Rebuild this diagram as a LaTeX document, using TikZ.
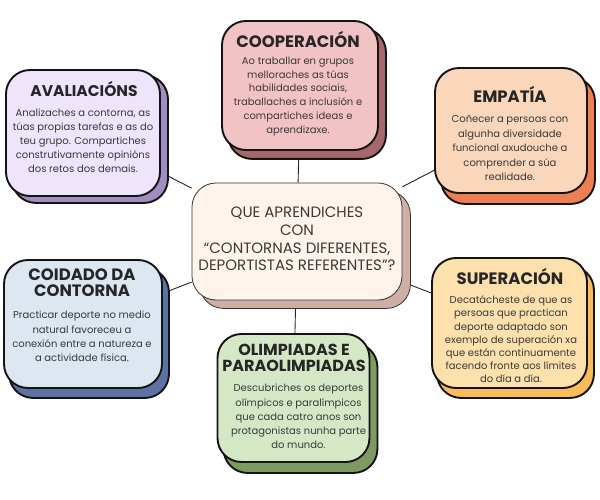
\documentclass[tikz,border=0pt]{standalone}
\usepackage{fontspec}
\setmainfont{Poppins}
\usetikzlibrary{backgrounds}
\definecolor{coopF}{HTML}{F2C3C5}
\definecolor{coopS}{HTML}{A7686B}
\definecolor{avalF}{HTML}{EEE4FB}
\definecolor{avalS}{HTML}{A28DC1}
\definecolor{empF}{HTML}{FAD7BA}
\definecolor{empS}{HTML}{EE7F52}
\definecolor{coidF}{HTML}{DDE7F1}
\definecolor{coidS}{HTML}{5B72A2}
\definecolor{supF}{HTML}{FCE1AC}
\definecolor{supS}{HTML}{F8BC5A}
\definecolor{olimF}{HTML}{D5E8C6}
\definecolor{olimS}{HTML}{7D9A63}
\definecolor{centF}{HTML}{FEF4EC}
\definecolor{centS}{HTML}{CFAFA5}
\definecolor{titleC}{HTML}{262626}
\definecolor{bodyC}{HTML}{3A3A3A}
\begin{document}
\begin{tikzpicture}[x=1pt,y=-1pt,
  box/.style={draw=black!92, line width=1.9pt, rounded corners=24pt, inner sep=0pt},
  shadowbox/.style={draw=black!92, line width=1.9pt, rounded corners=24pt},
  centbox/.style={draw=black!80, line width=0.8pt, rounded corners=24pt, inner sep=0pt},
  centshadow/.style={draw=black!80, line width=0.8pt, rounded corners=24pt},
  ttl/.style={align=center, text=titleC, font={\fontsize{#1}{16}\selectfont\bfseries}, inner sep=0pt},
  ttl/.default=16.5,
  bdy/.style={align=center, text=bodyC, font={\fontsize{10}{#1}\selectfont}, inner sep=0pt},
  bdy/.default=14,
  ctxt/.style={align=center, text=bodyC, font=\fontsize{15}{17.7}\selectfont, inner sep=0pt},
  link/.style={draw=black!85, line width=0.9pt}]
\useasboundingbox (0,0) rectangle (600,500);

% boxes
\node[centbox, fill=centF, minimum width=210pt, minimum height=117pt] (cent) at (297,241.5) {};
\node[box, fill=coopF, minimum width=156pt, minimum height=129pt] (coop) at (300,85.5) {};
\node[box, fill=avalF, minimum width=154pt, minimum height=126pt] (aval) at (83,133) {};
\node[box, fill=empF, minimum width=152pt, minimum height=125pt] (emp) at (511,130.5) {};
\node[box, fill=coidF, minimum width=158pt, minimum height=128pt] (coid) at (83,324) {};
\node[box, fill=supF, minimum width=155pt, minimum height=130pt] (sup) at (509.5,323) {};
\node[box, fill=olimF, minimum width=152pt, minimum height=128pt] (olim) at (293.5,398) {};

\begin{scope}[on background layer]
  \foreach \n in {coop,aval,emp,coid,sup,olim}
    \draw[link] (cent) -- (\n);
  \draw[centshadow, fill=centS] ([shift={(8,8)}]cent.north west) rectangle ([shift={(8,8)}]cent.south east);
  \draw[shadowbox, fill=coopS] ([shift={(7,8)}]coop.north west) rectangle ([shift={(7,8)}]coop.south east);
  \draw[shadowbox, fill=avalS] ([shift={(7,6)}]aval.north west) rectangle ([shift={(7,6)}]aval.south east);
  \draw[shadowbox, fill=empS] ([shift={(7,10)}]emp.north west) rectangle ([shift={(7,10)}]emp.south east);
  \draw[shadowbox, fill=coidS] ([shift={(6,9)}]coid.north west) rectangle ([shift={(6,9)}]coid.south east);
  \draw[shadowbox, fill=supS] ([shift={(6,9)}]sup.north west) rectangle ([shift={(6,9)}]sup.south east);
  \draw[shadowbox, fill=olimS] ([shift={(7,10)}]olim.north west) rectangle ([shift={(7,10)}]olim.south east);
\end{scope}

% texts
\node[ctxt] (centT) at (297,239) {QUE APRENDICHES\\CON\\“CONTORNAS DIFERENTES,\\DEPORTISTAS REFERENTES”?};

\node[ttl=16.5] (coopT) at (298,40) {COOPERACIÓN};
\node[bdy=13.8] (coopB) at (298,96.5) {Ao traballar en grupos\\melloraches as túas\\habilidades sociais,\\traballaches a inclusión e\\compartiches ideas e\\aprendizaxe.};

\node[ttl=15.5] (avalT) at (84,89) {AVALIACIÓNS};
\node[bdy] (avalB) at (83,141) {Analizaches a contorna, as\\túas propias tarefas e as do\\teu grupo. Compartiches\\construtivamente opinións\\dos retos dos demais.};

\node[ttl=16.5] (empT) at (510,94) {EMPATÍA};
\node[bdy=14.5] (empB) at (510,148) {Coñecer a persoas con\\algunha diversidade\\funcional axudouche a\\comprender a súa\\realidade.};

\node[ttl=16.5] (coidT) at (82,283) {COIDADO DA\\CONTORNA};
\node[bdy=14.3] (coidB) at (82,336.5) {Practicar deporte no medio\\natural favoreceu a\\conexión entre a natureza e\\a actividade física.};

\node[ttl=16.5] (supT) at (510,277) {SUPERACIÓN};
\node[bdy=13.2] (supB) at (511,339.5) {Decatácheste de que as\\persoas que practican\\deporte adaptado son\\exemplo de superación xa\\que están continuamente\\facendo fronte aos límites\\do día a día.};

\node[ttl=16] (olimT) at (294,358) {OLIMPIADAS E\\PARAOLIMPIADAS};
\node[bdy=14.2] (olimB) at (298.5,416.5) {Descubriches os deportes\\olímpicos e paralímpicos\\que cada catro anos son\\protagonistas nunha parte\\do mundo.};
\end{tikzpicture}
\end{document}
